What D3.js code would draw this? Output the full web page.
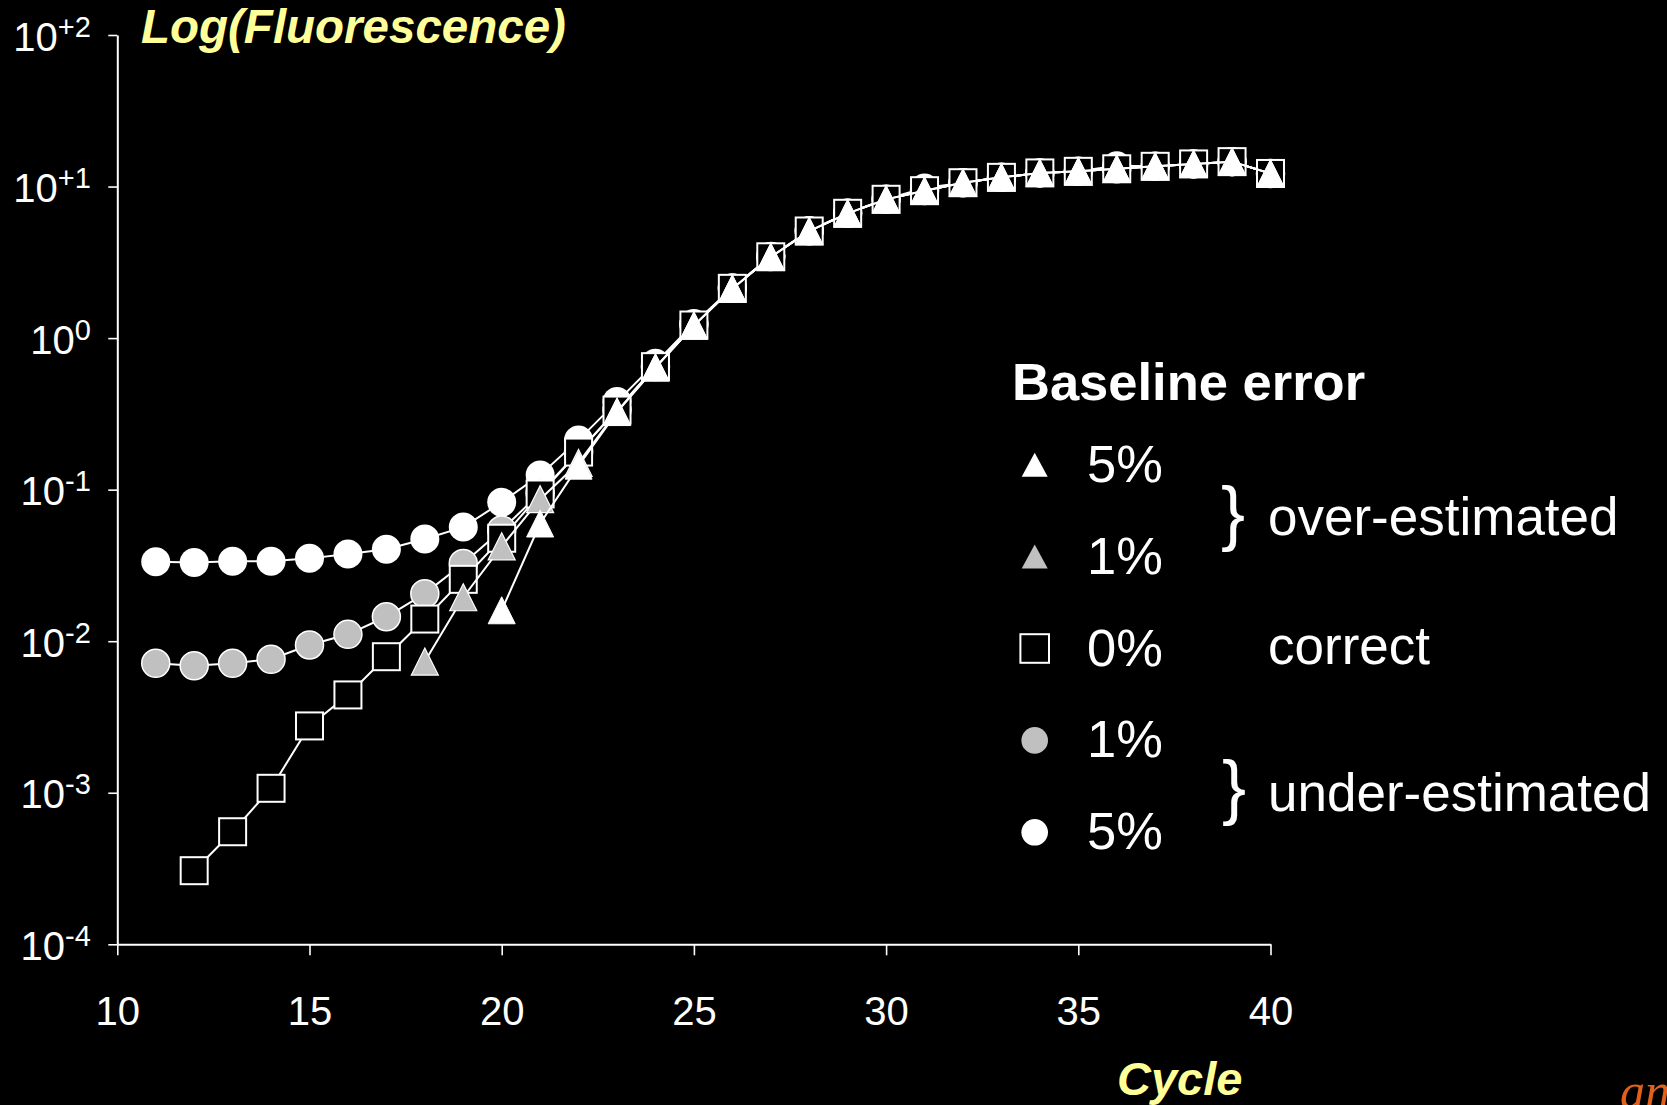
<!DOCTYPE html>
<html>
<head>
<meta charset="utf-8">
<script src="https://cdn.jsdelivr.net/npm/d3@7"></script>
<style>
  html, body { margin: 0; padding: 0; background: #000; }
  svg { display: block; }
</style>
</head>
<body>
<script>
// PCR amplification curves on a log scale, one series per baseline error
const cycles = d3.range(11, 41);

// 5% baseline over-estimation (white triangles)
const over5 = [null, null, null, null, null, null, null, null, null,
  0.0160, 0.0598, 0.144, 0.325, 0.64, 1.21, 2.12, 3.43, 5.08, 6.65, 8.23,
  9.38, 10.6, 11.5, 12.3, 12.6, 13.1, 13.6, 14.1, 14.6, 12.2];

// 1% baseline over-estimation (grey triangles)
const over1 = [null, null, null, null, null, null, null,
  0.00734, 0.0195, 0.0423, 0.0865, 0.150, 0.328, 0.64, 1.21, 2.12, 3.43, 5.08, 6.65, 8.23,
  9.38, 10.6, 11.5, 12.3, 12.6, 13.1, 13.6, 14.1, 14.6, 12.2];

// correct baseline (open squares)
const correct0 = [null,
  0.000306, 0.000553, 0.00107, 0.00276, 0.00442, 0.00790, 0.0140, 0.0256, 0.0478,
  0.0936, 0.177, 0.335, 0.648, 1.22, 2.13, 3.44, 5.09, 6.66, 8.24,
  9.39, 10.6, 11.5, 12.3, 12.6, 13.1, 13.6, 14.1, 14.6, 12.2];

// 1% baseline under-estimation (grey circles)
const under1 = [0.00715, 0.00689, 0.00715, 0.00760, 0.00944, 0.0111, 0.0145, 0.0206, 0.0326,
  0.0542, 0.095, 0.178, 0.337, 0.65, 1.23, 2.14, 3.45, 5.10, 6.67, 8.25,
  9.40, 10.6, 11.5, 12.3, 12.6, 13.1, 13.6, 14.1, 14.6, 12.2];

// 5% baseline under-estimation (white circles)
const under5 = [0.0335, 0.0330, 0.0337, 0.0337, 0.0352, 0.0376, 0.0404, 0.0472, 0.0566,
  0.0825, 0.125, 0.213, 0.381, 0.682, 1.25, 2.14, 3.45, 5.10, 6.70, 8.26,
  9.80, 10.6, 11.5, 12.3, 12.6, 13.7, 13.6, 14.1, 14.6, 12.2];

const xTicks = [10, 15, 20, 25, 30, 35, 40];
const yTicks = [1e-4, 1e-3, 1e-2, 1e-1, 1e0, 1e1, 1e2];
const yExponents = ["-4", "-3", "-2", "-1", "0", "+1", "+2"];

const legendRows = [
  { label: "5%", shape: "triangle", fill: "#ffffff" },
  { label: "1%", shape: "triangle", fill: "#c0c0c0" },
  { label: "0%", shape: "square", fill: "#000000" },
  { label: "1%", shape: "circle", fill: "#c0c0c0" },
  { label: "5%", shape: "circle", fill: "#ffffff" }
];
const groupLabels = ["over-estimated", "correct", "under-estimated"];

const FONT = "'Liberation Sans', Arial, Helvetica, sans-serif";
const W = 1667, H = 1105;

const svg = d3.select("body").append("svg")
  .attr("width", W).attr("height", H)
  .style("background", "#000");

const x = d3.scaleLinear().domain([10, 40]).range([117.3, 1270.5]);
const y = d3.scaleLog().domain([1e-4, 1e2]).range([944.3, 35]);

// axes
const xAxis = svg.append("g")
  .attr("transform", "translate(0,944.3)")
  .call(d3.axisBottom(x).tickValues(xTicks).tickSize(11).tickSizeOuter(0).tickFormat(d3.format("d")));
xAxis.select(".domain").attr("stroke", "#fff").attr("stroke-width", 2);
xAxis.selectAll(".tick line").attr("stroke", "#fff").attr("stroke-width", 1.6);
xAxis.selectAll(".tick text")
  .attr("y", 80.7).attr("dy", null)
  .attr("fill", "#fff")
  .style("font-family", FONT).style("font-size", "40px");

const yAxis = svg.append("g")
  .attr("transform", "translate(117.3,0)")
  .call(d3.axisLeft(y).tickValues(yTicks).tickSize(9).tickSizeOuter(0).tickFormat(""));
yAxis.select(".domain").attr("stroke", "#fff").attr("stroke-width", 2);
yAxis.selectAll(".tick line").attr("stroke", "#fff").attr("stroke-width", 1.6);
yAxis.selectAll(".tick").each(function (d) {
  const t = d3.select(this).append("text")
    .attr("x", -26.5).attr("y", 15).attr("dy", null)
    .attr("text-anchor", "end")
    .attr("fill", "#fff")
    .style("font-family", FONT).style("font-size", "40px");
  t.append("tspan").text("10");
  t.append("tspan").attr("dy", -14).style("font-size", "29px").text(yExponents[yTicks.indexOf(d)]);
});

// axis titles
svg.append("text")
  .attr("x", 141).attr("y", 43)
  .attr("fill", "#ffff99")
  .style("font-family", FONT).style("font-size", "47.5px")
  .style("font-weight", "bold").style("font-style", "italic")
  .text("Log(Fluorescence)");
svg.append("text")
  .attr("x", 1117).attr("y", 1095)
  .attr("fill", "#ffff99")
  .style("font-family", FONT).style("font-size", "47px")
  .style("font-weight", "bold").style("font-style", "italic")
  .text("Cycle");

// marker shapes
function drawMarker(sel, shape, fill, size, strokeColor, strokeWidth) {
  const h = size / 2;
  if (shape === "circle") {
    sel.append("circle").attr("r", h).attr("fill", fill)
      .attr("stroke", strokeColor).attr("stroke-width", strokeWidth);
  } else if (shape === "square") {
    sel.append("rect").attr("x", -h).attr("y", -h).attr("width", size).attr("height", size)
      .attr("fill", fill).attr("stroke", strokeColor).attr("stroke-width", strokeWidth);
  } else {
    sel.append("path").attr("d", `M0,${-h}L${h},${h}L${-h},${h}Z`)
      .attr("fill", fill).attr("stroke", strokeColor).attr("stroke-width", strokeWidth);
  }
}

const series = [
  { values: under5, shape: "circle", fill: "#ffffff", size: 29, stroke: "none", sw: 0 },
  { values: under1, shape: "circle", fill: "#c0c0c0", size: 28, stroke: "#ffffff", sw: 1.5 },
  { values: correct0, shape: "square", fill: "#000000", size: 27, stroke: "#ffffff", sw: 2 },
  { values: over1, shape: "triangle", fill: "#c0c0c0", size: 27, stroke: "#ffffff", sw: 1.2 },
  { values: over5, shape: "triangle", fill: "#ffffff", size: 27, stroke: "#ffffff", sw: 1 }
];

const line = d3.line()
  .defined(d => d.v != null)
  .x(d => x(d.c))
  .y(d => y(d.v));

const plot = svg.append("g");
series.forEach(s => {
  const pts = cycles.map((c, i) => ({ c: c, v: s.values[i] }));
  const g = plot.append("g");
  g.append("path")
    .datum(pts)
    .attr("d", line)
    .attr("fill", "none")
    .attr("stroke", "#fff")
    .attr("stroke-width", 2);
  g.selectAll("g.mk")
    .data(pts.filter(d => d.v != null))
    .join("g")
    .attr("class", "mk")
    .attr("transform", d => `translate(${x(d.c)},${y(d.v)})`)
    .each(function () { drawMarker(d3.select(this), s.shape, s.fill, s.size, s.stroke, s.sw); });
});

// legend
svg.append("text")
  .attr("x", 1012).attr("y", 400)
  .attr("fill", "#fff")
  .style("font-family", FONT).style("font-size", "52.5px").style("font-weight", "bold")
  .text("Baseline error");

const rowY = d3.scaleLinear().domain([0, 4]).range([481.7, 849.3]);
legendRows.forEach((r, i) => {
  const by = rowY(i);
  const m = svg.append("g").attr("transform", `translate(1034.7,${by - 17})`);
  if (r.shape === "triangle") {
    m.append("path").attr("d", "M0,-12L13,12L-13,12Z").attr("fill", r.fill);
  } else if (r.shape === "square") {
    m.append("rect").attr("x", -14.3).attr("y", -14.3).attr("width", 28.6).attr("height", 28.6)
      .attr("fill", "#000").attr("stroke", "#fff").attr("stroke-width", 2);
  } else {
    m.append("circle").attr("r", 13.3).attr("fill", r.fill);
  }
  svg.append("text")
    .attr("x", 1087).attr("y", by)
    .attr("fill", "#fff")
    .style("font-family", FONT).style("font-size", "52.5px")
    .text(r.label);
});

// group braces and labels
[[537, 1221], [811, 1222]].forEach(([by, bx]) => {
  svg.append("text")
    .attr("x", bx).attr("y", by)
    .attr("fill", "#fff")
    .style("font-family", FONT).style("font-size", "72px")
    .text("}");
});
[[535, groupLabels[0]], [664, groupLabels[1]], [810.7, groupLabels[2]]].forEach(([by, t]) => {
  svg.append("text")
    .attr("x", 1268).attr("y", by)
    .attr("fill", "#fff")
    .style("font-family", FONT).style("font-size", "53px")
    .text(t);
});

// corner mark, cropped by the lower edge
svg.append("text")
  .attr("x", 1620).attr("y", 1108)
  .attr("fill", "#e2601c")
  .style("font-family", "'Liberation Serif', 'DejaVu Serif', serif")
  .style("font-size", "50px").style("font-style", "italic")
  .text("an");
</script>
</body>
</html>
